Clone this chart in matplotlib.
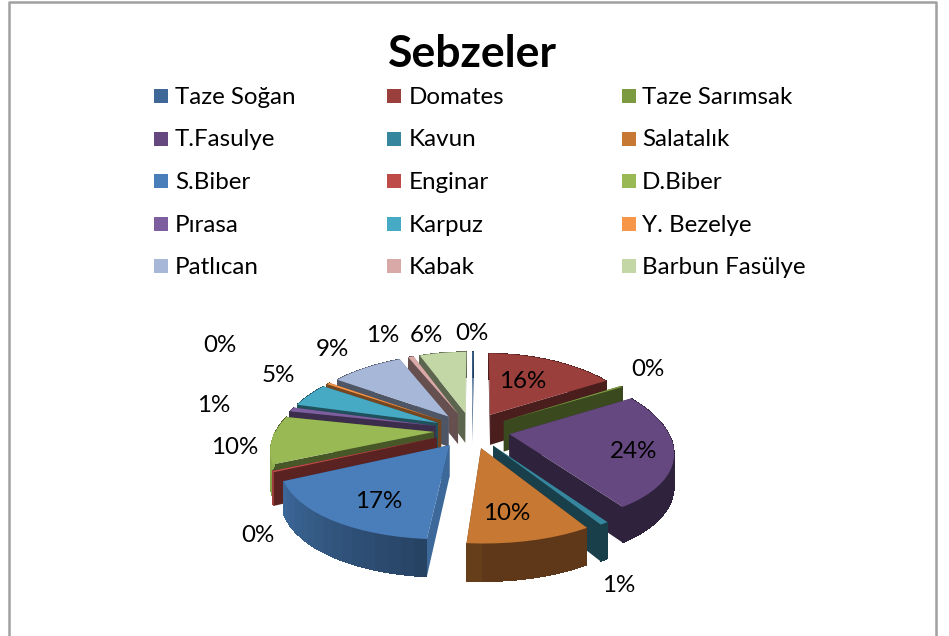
import numpy as np
import matplotlib
matplotlib.use('Agg')
import matplotlib.pyplot as plt
from matplotlib.patches import Polygon, Rectangle
from matplotlib.colors import to_rgb

# slices in clockwise order from 12 o'clock
names = ['Taze Soğan', 'Domates', 'Taze Sarımsak', 'T.Fasulye', 'Kavun',
         'Salatalık', 'S.Biber', 'Enginar', 'D.Biber', 'Pırasa',
         'Karpuz', 'Y. Bezelye', 'Patlıcan', 'Kabak', 'Barbun Fasülye']
values = [0.2, 16.3, 0.3, 24.4, 0.7, 10, 17, 0.3, 10, 0.9, 5, 0.4, 9, 0.7, 6]
colors = ['#3f6797', '#9b3f3c', '#7c9a3f', '#65487f', '#36879d',
          '#c77833', '#4a7ebb', '#be4b48', '#98b954', '#7d5fa0',
          '#46aac5', '#f79646', '#a7b7d8', '#d9a9a8', '#c3d6a6']

# percent label centres, pixels
label_x = [472, 523, 648, 634, 619, 507, 379, 258, 235, 214, 278, 220, 332, 383, 426]
label_y = [333, 381, 369, 451, 585, 513, 501, 535, 447, 405, 376, 345, 350, 335, 335]

# projection of the pie, pixels
cx, cy = 472, 430
rx, ky = 158, 75
persp_x = 0.2
persp_y = 0.15
explode = 0.24
depth = 31


def project(X, Y, down=0.0):
    sx = 1.0 / (1.0 + persp_x * Y)
    sy = 1.0 / (1.0 + persp_y * Y)
    return cx + rx * X * sx, cy - ky * Y * sy + down * depth * sy


def darker(col, f):
    return tuple(min(1, c * f) for c in to_rgb(col))


def rim_shade(a):
    if 180 <= a <= 270:
        return 0.5 + (a - 180) / 90 * 0.45
    return 0.47


def wall_shade(nx):
    return 0.47 + 0.36 * max(0.0, nx) ** 6


fig = plt.figure(figsize=(9.49, 6.36), dpi=100)
ax = fig.add_axes([0, 0, 1, 1])
ax.set_xlim(0, 949)
ax.set_ylim(636, 0)
ax.axis('off')

# chart frame
ax.plot([9.5, 9.5, 936, 936], [636, 2, 2, 636], color='#a0a0a0', lw=1.8)

ax.text(472, 54, 'Sebzeler', fontsize=32, fontweight='bold', family='Lato',
        ha='center', va='center')

# legend, filled by row
for i in range(len(names)):
    col = i % 3
    row = i // 3
    ly = 96 + row * 42.5
    ax.add_patch(Rectangle(([154, 387, 622][col], ly - 7), 14, 14, fc=colors[i], ec='none'))
    ax.text([175, 409, 642][col], ly + 1.5, names[i], fontsize=17.4, family='Lato',
            ha='left', va='center')

# the pie, back to front
total = sum(values)
edges = np.concatenate([[0], np.cumsum(values)]) / total * 360
mids = (edges[:-1] + edges[1:]) / 2
order = np.argsort(-np.cos(np.radians(mids)))
for i in order:
    a0, a1 = edges[i], edges[i + 1]
    m = np.radians(mids[i])
    ox, oy = explode * np.sin(m), explode * np.cos(m)
    ang = np.linspace(a0, a1, max(2, int((a1 - a0) / 4) + 2))
    rX = ox + np.sin(np.radians(ang))
    rY = oy + np.cos(np.radians(ang))

    # radial walls
    walls = []
    for a, sign, k in [(a0, -90, 0), (a1, 90, -1)]:
        nx = np.sin(np.radians(a + sign))
        corners = [project(ox, oy), project(rX[k], rY[k]),
                   project(rX[k], rY[k], 1), project(ox, oy, 1)]
        walls.append(((oy + rY[k]) / 2, corners, wall_shade(nx)))
    walls.sort(key=lambda w: -w[0])
    for _, corners, f in walls:
        ax.add_patch(Polygon(corners, fc=darker(colors[i], f), ec='none'))

    # outer wall strips, solid base under them so no seams show
    base = [project(x, y) for x, y in zip(rX, rY)]
    base += [project(x, y, 1) for x, y in zip(rX[::-1], rY[::-1])]
    ax.add_patch(Polygon(base, fc=darker(colors[i], rim_shade(mids[i])), ec='none'))
    for j in range(len(ang) - 1):
        strip = [project(rX[j], rY[j]), project(rX[j + 1], rY[j + 1]),
                 project(rX[j + 1], rY[j + 1], 1), project(rX[j], rY[j], 1)]
        f = rim_shade((ang[j] + ang[j + 1]) / 2)
        ax.add_patch(Polygon(strip, fc=darker(colors[i], f), ec='none', antialiased=False))

    # top face
    top = [project(ox, oy)] + [project(x, y) for x, y in zip(rX, rY)]
    ax.add_patch(Polygon(top, fc=colors[i], ec='none'))

for i in range(len(values)):
    ax.text(label_x[i], label_y[i], '%d%%' % round(values[i] / total * 100),
            fontsize=17.4, family='Lato', ha='center', va='center')

plt.savefig('out.png', dpi=100)
